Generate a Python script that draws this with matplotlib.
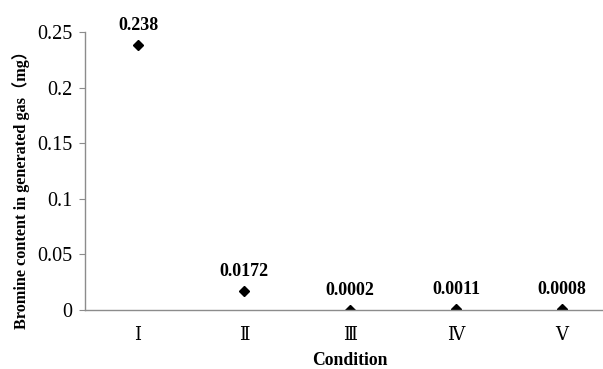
import matplotlib.pyplot as plt

# Data
conditions = ['Ⅰ', 'Ⅱ', 'Ⅲ', 'Ⅳ', 'Ⅴ']
bromine = [0.238, 0.0172, 0.0002, 0.0011, 0.0008]
value_labels = ['0.238', '0.0172', '0.0002', '0.0011', '0.0008']
y_ticks = [0, 0.05, 0.1, 0.15, 0.2, 0.25]
y_tick_labels = ['0', '0.05', '0.1', '0.15', '0.2', '0.25']

plt.rcParams['font.family'] = ['Liberation Serif', 'Noto Sans CJK SC', 'DejaVu Sans']

fig = plt.figure(figsize=(6.03, 3.69), dpi=100)
ax = fig.add_axes([0.141, 0.160, 0.859, 0.753])

x = list(range(1, len(conditions) + 1))
ax.plot(x, bromine, linestyle='none', marker='D', markersize=5.5, color='black')

for xi, yi, lab in zip(x, bromine, value_labels):
    ax.annotate(lab, (xi, yi), xytext=(0, 8), textcoords='offset points',
                ha='center', va='bottom', fontsize=13, fontweight='bold')

ax.set_xlim(0.5, 0.5 + 518 / 106)
ax.set_ylim(0, 0.25)
ax.set_yticks(y_ticks)
ax.set_yticklabels(y_tick_labels, fontsize=14.5)
ax.set_xticks(x)
ax.set_xticklabels(conditions, fontsize=13, family=['DejaVu Serif', 'Noto Sans CJK SC'])

for side in ['top', 'right']:
    ax.spines[side].set_visible(False)
for side in ['left', 'bottom']:
    ax.spines[side].set_color('#8c8c8c')
    ax.spines[side].set_linewidth(1.0)

ax.tick_params(axis='y', colors='#8c8c8c', length=4, labelcolor='black', pad=5)
ax.tick_params(axis='x', length=0, labelcolor='black', pad=11.5)

ax.set_xlabel('Condition', fontsize=12.7, fontweight='bold')
ax.set_ylabel('Bromine content in generated gas（mg）', fontsize=11.7,
              fontweight='bold')
ax.xaxis.set_label_coords(0.512, -0.152)
ax.yaxis.set_label_coords(-0.106, 0.446)

fig.savefig('out.png', dpi=100)
